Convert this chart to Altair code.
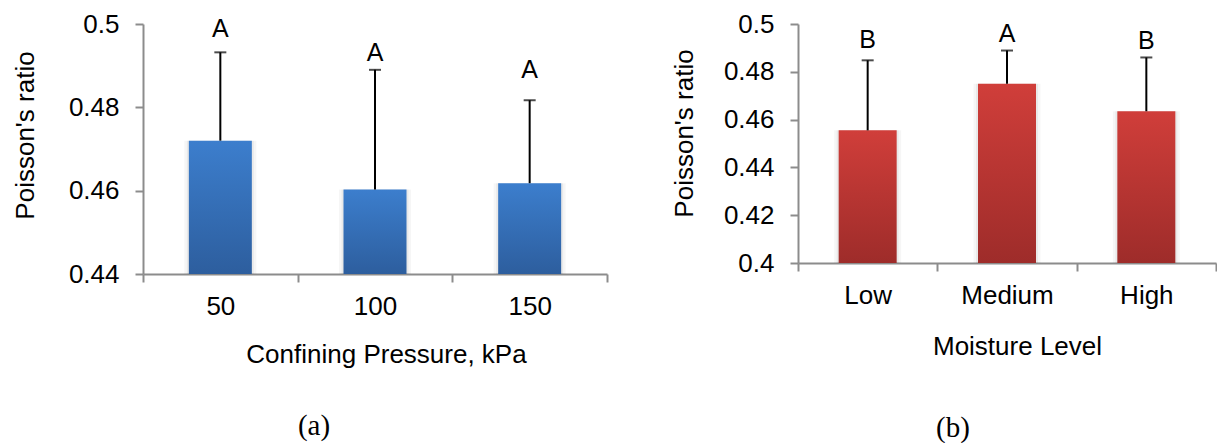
import altair as alt
import pandas as pd

# Poisson's ratio by confining pressure
pressure = ["50", "100", "150"]
pressure_mean = [0.4720, 0.4603, 0.4618]
pressure_sd = [0.0212, 0.0287, 0.0199]
pressure_group = ["A", "A", "A"]
pressure_label_y = [0.4969, 0.4911, 0.4870]

# Poisson's ratio by moisture level
moisture = ["Low", "Medium", "High"]
moisture_mean = [0.4555, 0.4750, 0.4635]
moisture_sd = [0.0293, 0.0139, 0.0225]
moisture_group = ["B", "A", "B"]
moisture_label_y = [0.4898, 0.4923, 0.4894]

FONT = "Liberation Sans"
AXIS_GRAY = "#8c8c8c"


def gradient(top, bottom):
    return alt.Gradient(
        gradient="linear",
        stops=[alt.GradientStop(color=top, offset=0), alt.GradientStop(color=bottom, offset=1)],
        x1=0, x2=0, y1=0, y2=1,
    )


def panel(cats, means, sds, groups, label_y, domain, ticks, xtitle, caption,
          colors, width, height, bar_size, ytitle_pad, ytitle_y, xtitle_pad, xtitle_x,
          caption_dx, caption_offset):
    df = pd.DataFrame({
        "cat": cats,
        "mean": means,
        "top": [m + s for m, s in zip(means, sds)],
        "group": groups,
        "ly": label_y,
    })
    x = alt.X(
        "cat:N", sort=cats,
        scale=alt.Scale(paddingInner=0, paddingOuter=0),
        axis=alt.Axis(
            title=xtitle, tickBand="extent", labelAngle=0, labelPadding=11,
            titlePadding=xtitle_pad, titleX=xtitle_x,
        ),
    )
    yscale = alt.Scale(domain=domain, zero=False, nice=False)
    y = alt.Y(
        "mean:Q", scale=yscale,
        axis=alt.Axis(
            title="Poisson's ratio", values=ticks, format=".2~f", labelPadding=16,
            titlePadding=ytitle_pad, titleY=ytitle_y, grid=False,
        ),
    )
    base = alt.Chart(df)
    shadow_outer = base.mark_bar(size=bar_size + 9, color="#000000", opacity=0.035).encode(
        x=x, y=y, y2=alt.datum(domain[0]))
    shadow_inner = base.mark_bar(size=bar_size + 4, color="#000000", opacity=0.05).encode(
        x=x, y=y, y2=alt.datum(domain[0]))
    bars = base.mark_bar(size=bar_size, color=gradient(*colors)).encode(
        x=x, y=y, y2=alt.datum(domain[0]))
    err = base.mark_rule(color="black", strokeWidth=2).encode(
        x=x, y=alt.Y("mean:Q", scale=yscale), y2="top:Q")
    cap = base.mark_tick(color="black", thickness=2, size=12).encode(
        x=x, y=alt.Y("top:Q", scale=yscale))
    letters = base.mark_text(font=FONT, fontSize=25, baseline="alphabetic", color="black").encode(
        x=x, y=alt.Y("ly:Q", scale=yscale), text="group:N")
    return alt.layer(shadow_outer, shadow_inner, bars, err, cap, letters).properties(
        width=width, height=height,
        title=alt.TitleParams(
            caption, orient="bottom", font="Liberation Serif", fontSize=29,
            fontWeight="normal", frame="group", dx=caption_dx, offset=caption_offset,
            color="black",
        ),
    )


left = panel(
    pressure, pressure_mean, pressure_sd, pressure_group, pressure_label_y,
    [0.44, 0.5], [0.44, 0.46, 0.48, 0.5], "Confining Pressure, kPa", "(a)",
    ("#3c7ecd", "#2d5e9e"), 464, 250, 63,
    ytitle_pad=30, ytitle_y=111, xtitle_pad=22, xtitle_x=243,
    caption_dx=-61, caption_offset=45,
)

right = panel(
    moisture, moisture_mean, moisture_sd, moisture_group, moisture_label_y,
    [0.4, 0.5], [0.4, 0.42, 0.44, 0.46, 0.48, 0.5], "Moisture Level", "(b)",
    ("#d03e3a", "#9e2c2a"), 418, 239, 58,
    ytitle_pad=26, ytitle_y=109, xtitle_pad=25, xtitle_x=219,
    caption_dx=-54, caption_offset=55,
)

chart = alt.hconcat(left, right, spacing=63).configure(
    padding={"left": 12, "top": 11, "right": 0, "bottom": 0},
    background="white",
).configure_view(stroke=None).configure_axis(
    labelFont=FONT, titleFont=FONT, labelFontSize=26, titleFontSize=26,
    labelColor="black", titleColor="black", titleFontWeight="normal",
    domainColor=AXIS_GRAY, tickColor=AXIS_GRAY, domainWidth=2, tickWidth=2, tickSize=8,
)

chart.save("out.html", embed_options={"renderer": "svg", "actions": False})
